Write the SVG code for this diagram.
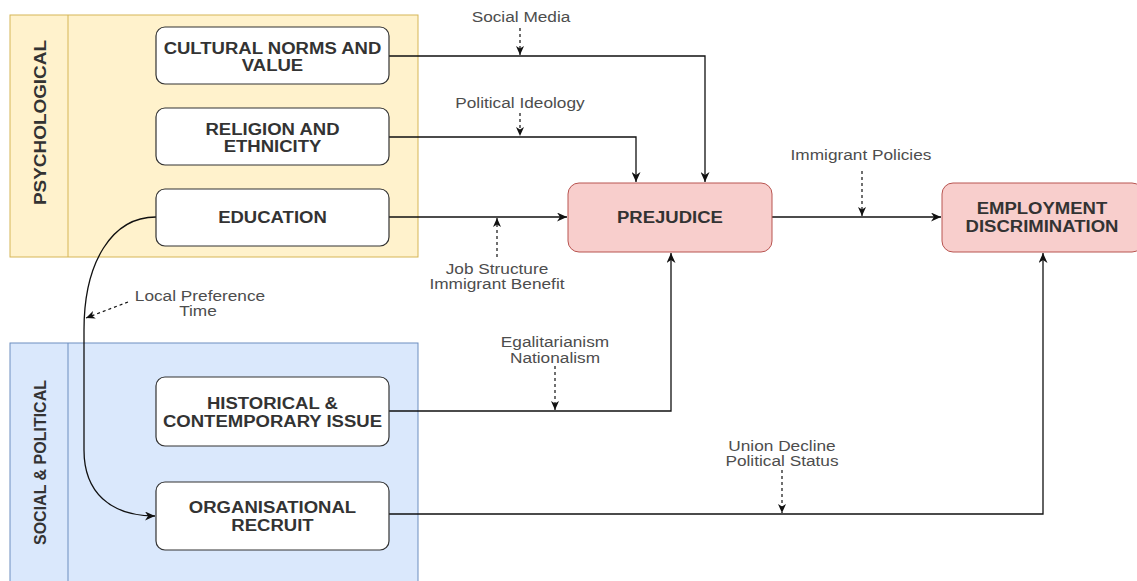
<svg xmlns="http://www.w3.org/2000/svg" width="1137" height="581" viewBox="0 0 1137 581">
<style>
.bg{fill:#ffffff}
.psy{fill:#fff2cc;stroke:#d6b656;stroke-width:1}
.soc{fill:#dae8fc;stroke:#6c8ebf;stroke-width:1}
.node{fill:#ffffff;stroke:#333333;stroke-width:1.2}
.key{fill:#f8cecc;stroke:#b85450;stroke-width:1}
.nt{font-family:"Liberation Sans",Arial,sans-serif;font-size:17px;font-weight:bold;fill:#333333;text-anchor:middle;transform-box:fill-box;transform-origin:center;transform:scaleX(1.09)}
.vt{font-family:"Liberation Sans",Arial,sans-serif;font-weight:bold;fill:#333333;text-anchor:middle}
.lt{font-family:"Liberation Sans",Arial,sans-serif;font-size:15px;fill:#4d4d4d;text-anchor:middle;transform-box:fill-box;transform-origin:center;transform:scaleX(1.15)}
.line{fill:none;stroke:#111111;stroke-width:1.3}
.dash{fill:none;stroke:#111111;stroke-width:1.2;stroke-dasharray:3 3}
</style>
<defs>
<marker id="arr" markerUnits="userSpaceOnUse" markerWidth="11" markerHeight="9" refX="10" refY="4.5" orient="auto">
<path d="M0,0 L10,4.5 L0,9 L3,4.5 Z" fill="#111111"/>
</marker>
<marker id="darr" markerUnits="userSpaceOnUse" markerWidth="10" markerHeight="8" refX="9" refY="4" orient="auto">
<path d="M0,0 L9,4 L0,8 L2.5,4 Z" fill="#111111"/>
</marker>
</defs>
<rect class="bg" x="0" y="0" width="1137" height="581"/>

<g id="psychological">
<rect class="psy" x="10" y="15" width="408" height="242"/>
<line x1="68" y1="15" x2="68" y2="257" stroke="#d6b656" stroke-width="1"/>
<g transform="translate(40,122.5) rotate(-90)"><text class="vt" x="0" y="6" font-size="17" textLength="165" lengthAdjust="spacingAndGlyphs">PSYCHOLOGICAL</text></g>
</g>

<g id="social-political">
<rect class="soc" x="10" y="343" width="408" height="250"/>
<line x1="68" y1="343" x2="68" y2="581" stroke="#6c8ebf" stroke-width="1"/>
<g transform="translate(40,462.5) rotate(-90)"><text class="vt" x="0" y="6" font-size="16" textLength="165" lengthAdjust="spacingAndGlyphs">SOCIAL &amp; POLITICAL</text></g>
</g>

<g id="connectors">
<path class="line" d="M389,56 H705 V182" marker-end="url(#arr)"/>
<path class="line" d="M389,137 H636 V182" marker-end="url(#arr)"/>
<path class="line" d="M389,217 H567" marker-end="url(#arr)"/>
<path class="line" d="M772,217 H941" marker-end="url(#arr)"/>
<path class="line" d="M389,411 H671 V253" marker-end="url(#arr)"/>
<path class="line" d="M389,514 H1043 V253" marker-end="url(#arr)"/>
<path class="line" d="M156,217 C112,217 84,262 84,330 L84,450 C84,492 110,516 155,516" marker-end="url(#arr)"/>
<path class="dash" d="M520,28 V55" marker-end="url(#darr)"/>
<path class="dash" d="M520,113 V136" marker-end="url(#darr)"/>
<path class="dash" d="M497,257 V218" marker-end="url(#darr)"/>
<path class="dash" d="M862,171 V216" marker-end="url(#darr)"/>
<path class="dash" d="M555,366 V410" marker-end="url(#darr)"/>
<path class="dash" d="M782,470 V513" marker-end="url(#darr)"/>
<path class="dash" d="M128,302 L86,318" marker-end="url(#darr)"/>
</g>

<g id="labels">
<text class="lt" x="521" y="22">Social Media</text>
<text class="lt" x="520" y="108">Political Ideology</text>
<text class="lt" x="497" y="274">Job Structure</text>
<text class="lt" x="497" y="289">Immigrant Benefit</text>
<text class="lt" x="861" y="160">Immigrant Policies</text>
<text class="lt" x="555" y="347">Egalitarianism</text>
<text class="lt" x="555" y="363">Nationalism</text>
<text class="lt" x="782" y="451">Union Decline</text>
<text class="lt" x="782" y="466">Political Status</text>
<text class="lt" x="200" y="301">Local Preference</text>
<text class="lt" x="198" y="316">Time</text>
</g>

<g id="cultural-norms">
<rect class="node" x="156" y="27" width="233" height="57" rx="9"/>
<text class="nt" x="272.5" y="54">CULTURAL NORMS AND</text>
<text class="nt" x="272.5" y="71">VALUE</text>
</g>
<g id="religion-ethnicity">
<rect class="node" x="156" y="108" width="233" height="57" rx="9"/>
<text class="nt" x="272.5" y="135">RELIGION AND</text>
<text class="nt" x="272.5" y="152">ETHNICITY</text>
</g>
<g id="education">
<rect class="node" x="156" y="189" width="233" height="57" rx="9"/>
<text class="nt" x="272.5" y="223.5">EDUCATION</text>
</g>
<g id="historical">
<rect class="node" x="156" y="377" width="233" height="69" rx="9"/>
<text class="nt" x="272.5" y="409.5">HISTORICAL &amp;</text>
<text class="nt" x="272.5" y="427">CONTEMPORARY ISSUE</text>
</g>
<g id="organisational">
<rect class="node" x="156" y="482" width="233" height="68" rx="9"/>
<text class="nt" x="272.5" y="513.5">ORGANISATIONAL</text>
<text class="nt" x="272.5" y="531">RECRUIT</text>
</g>
<g id="prejudice">
<rect class="key" x="568" y="183" width="204" height="69" rx="11"/>
<text class="nt" x="670" y="223.5">PREJUDICE</text>
</g>
<g id="employment-discrimination">
<rect class="key" x="942" y="183" width="201" height="69" rx="11"/>
<text class="nt" x="1042" y="214.5">EMPLOYMENT</text>
<text class="nt" x="1042" y="232">DISCRIMINATION</text>
</g>
</svg>
